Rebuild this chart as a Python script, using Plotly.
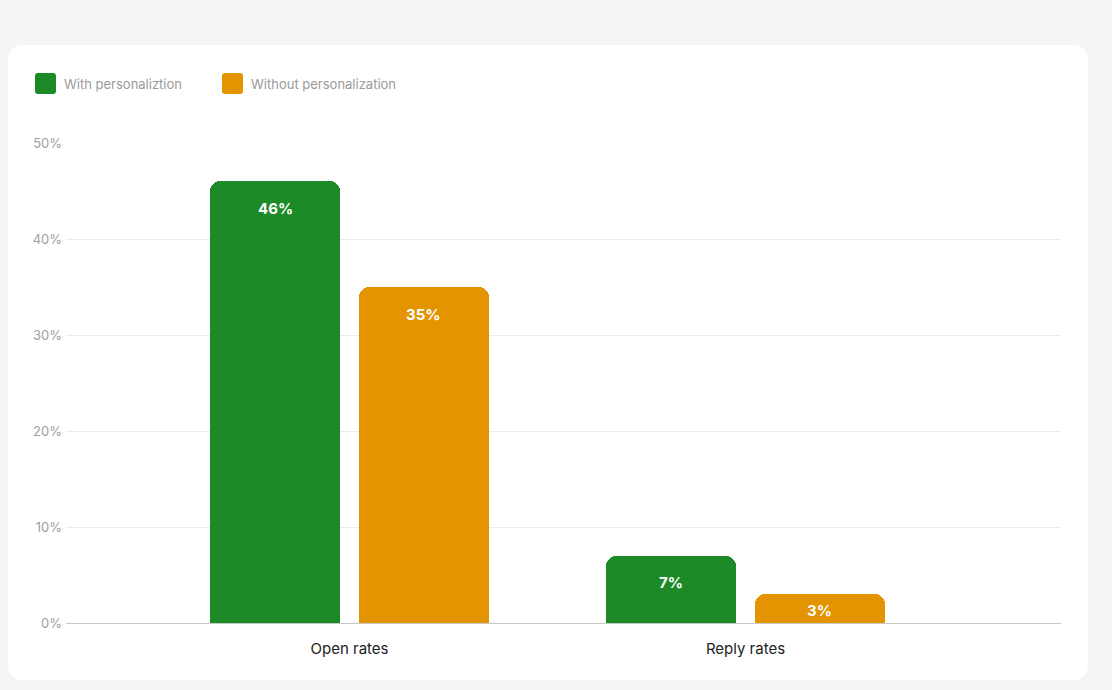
import plotly.graph_objects as go

# Chart data
categories = ['Open rates', 'Reply rates']
with_pers = [46, 7]
without_pers = [35, 3]
series_names = ['With personaliztion', 'Without personalization']
y_ticks = [0, 10, 20, 30, 40, 50]
y_tick_labels = ['0%', '10%', '20%', '30%', '40%', '50%']

GREEN = '#1c8a26'
ORANGE = '#e39400'
FONT = 'Inter'

W, H = 1112, 690
M_L, M_R, M_T, M_B = 66, 51, 143, 67
PW, PH = W - M_L - M_R, H - M_T - M_B


def px(x):
    return (x - M_L) / PW


def py(y):
    return (H - M_B - y) / PH


def round_rect(x0, y0, x1, y1, r, color):
    # rounded rectangle in pixel coords converted to paper coords
    d = (f"M {px(x0 + r)} {py(y0)} L {px(x1 - r)} {py(y0)} "
         f"Q {px(x1)} {py(y0)} {px(x1)} {py(y0 + r)} "
         f"L {px(x1)} {py(y1 - r)} Q {px(x1)} {py(y1)} {px(x1 - r)} {py(y1)} "
         f"L {px(x0 + r)} {py(y1)} Q {px(x0)} {py(y1)} {px(x0)} {py(y1 - r)} "
         f"L {px(x0)} {py(y0 + r)} Q {px(x0)} {py(y0)} {px(x0 + r)} {py(y0)} Z")
    return dict(type='path', xref='paper', yref='paper', path=d,
                fillcolor=color, line_width=0, layer='below')


bar_w = 0.328
offsets = [-0.352, 0.024]
x_idx = list(range(len(categories)))

fig = go.Figure()
for vals, color, off, name in [(with_pers, GREEN, offsets[0], series_names[0]),
                               (without_pers, ORANGE, offsets[1], series_names[1])]:
    fig.add_trace(go.Bar(x=x_idx, y=vals, name=name, marker_color=color,
                         marker_line_width=0, width=bar_w, offset=off,
                         showlegend=False, hoverinfo='skip'))
    for xi, v in zip(x_idx, vals):
        # label sits ~27px under the bar top, or mid-bar for short bars
        shift = -min(27, v * PH / 50 / 2 + 2)
        fig.add_annotation(x=xi + off + bar_w / 2, y=v, yshift=shift,
                           text=f'{v}%', showarrow=False,
                           font=dict(family=FONT, size=15, color='white', weight='bold'))

# card background
fig.add_shape(round_rect(8, 45, 1088, 680, 16, 'white'))

# legend
for i, (name, color) in enumerate(zip(series_names, [GREEN, ORANGE])):
    x0 = [35, 222][i]
    fig.add_shape(round_rect(x0, 73, x0 + 21, 94, 3, color))
    fig.add_annotation(xref='paper', yref='paper', x=px(x0 + 27), y=py(84),
                       xanchor='left', yanchor='middle', text=name, showarrow=False,
                       font=dict(family=FONT, size=13, color='#9a9a9a'))

fig.update_layout(
    width=W, height=H,
    margin=dict(l=M_L, r=M_R, t=M_T, b=M_B),
    paper_bgcolor='#f5f5f5', plot_bgcolor='white',
    font=dict(family=FONT),
    bargap=0, barcornerradius=10,
    xaxis=dict(range=[(66 - 349.5) / 396, (1061 - 349.5) / 396],
               tickvals=x_idx, ticktext=categories, showgrid=False,
               zeroline=False, showline=True, linecolor='#c8c8c8', linewidth=1,
               ticks='', ticklabelstandoff=12,
               tickfont=dict(family=FONT, size=15, color='#222222'), fixedrange=True),
    yaxis=dict(range=[0, 50], tickvals=y_ticks, ticktext=y_tick_labels,
               showgrid=True, gridcolor='#ececec', gridwidth=1, zeroline=False,
               ticks='', ticklabelstandoff=3,
               tickfont=dict(family=FONT, size=13, color='#a0a0a0'), fixedrange=True),
)

fig.write_html("out.html", config={'displayModeBar': False},
               post_script="document.body.style.margin='0';")
